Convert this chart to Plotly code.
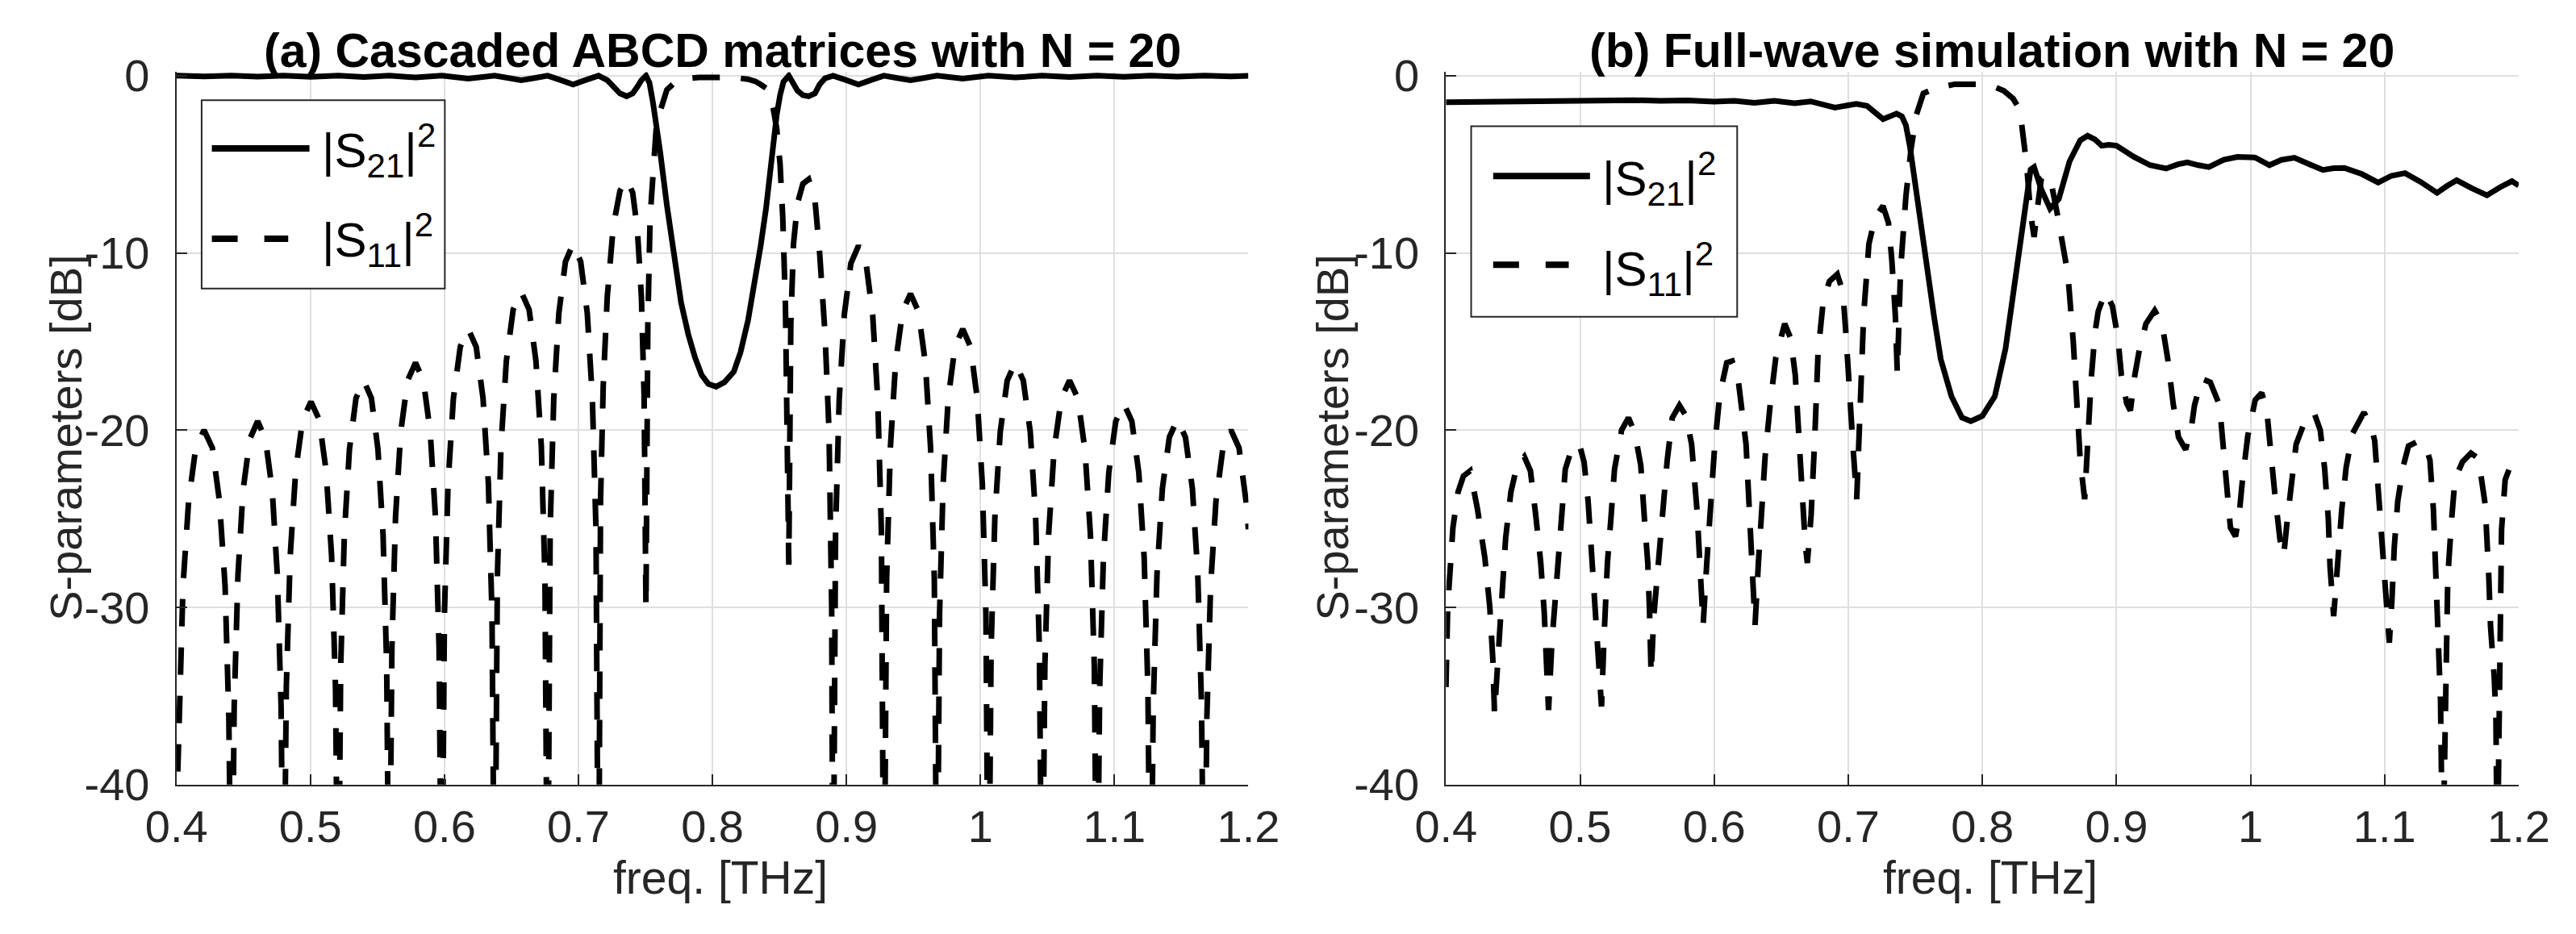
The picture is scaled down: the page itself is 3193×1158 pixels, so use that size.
import plotly.graph_objects as go
from plotly.subplots import make_subplots

# ---------------- data ----------------
x_ticks = [0.4, 0.5, 0.6, 0.7, 0.8, 0.9, 1.0, 1.1, 1.2]
x_tick_labels = ["0.4", "0.5", "0.6", "0.7", "0.8", "0.9", "1", "1.1", "1.2"]
y_ticks = [-40, -30, -20, -10, 0]
y_tick_labels = ["-40", "-30", "-20", "-10", "0"]

titles = ["(a) Cascaded ABCD matrices with N = 20",
          "(b) Full-wave simulation with N = 20"]
legend_names = ["|S<sub>21</sub>|<sup>2</sup>", "|S<sub>11</sub>|<sup>2</sup>"]

# (a) |S11|^2 [dB]
freq_a_s11 = [
    0.4000, 0.4021, 0.4049, 0.4091, 0.4144, 0.4206, 0.4268, 0.4321, 0.4363, 0.4391,
    0.4412, 0.4431, 0.4459, 0.4497, 0.4548, 0.4606, 0.4664, 0.4715, 0.4753, 0.4781,
    0.4800, 0.4820, 0.4849, 0.4890, 0.4942, 0.5004, 0.5065, 0.5117, 0.5158, 0.5187,
    0.5207, 0.5226, 0.5253, 0.5291, 0.5340, 0.5398, 0.5455, 0.5504, 0.5542, 0.5569,
    0.5588, 0.5608, 0.5635, 0.5674, 0.5725, 0.5784, 0.5843, 0.5894, 0.5933, 0.5960,
    0.5980, 0.6000, 0.6027, 0.6067, 0.6118, 0.6178, 0.6237, 0.6288, 0.6328, 0.6355,
    0.6375, 0.6395, 0.6422, 0.6462, 0.6513, 0.6573, 0.6632, 0.6683, 0.6723, 0.6750,
    0.6770, 0.6789, 0.6816, 0.6854, 0.6903, 0.6960, 0.7017, 0.7066, 0.7104, 0.7131,
    0.7150, 0.7165, 0.7185, 0.7215, 0.7260, 0.7310, 0.7360, 0.7405, 0.7440, 0.7470, 0.7490,
    0.7504, 0.7518, 0.7535, 0.7556, 0.7580, 0.7610, 0.7660, 0.7714, 0.7766, 0.7820, 0.7900,
    0.8030, 0.8160, 0.8266, 0.8320, 0.8360, 0.8400, 0.8426, 0.8455, 0.8480, 0.8505, 0.8525, 0.8545,
    0.8570, 0.8585, 0.8605, 0.8635, 0.8675, 0.8718, 0.8765, 0.8800, 0.8840, 0.8870, 0.8890,
    0.8900, 0.8919, 0.8946, 0.8984, 0.9033, 0.9090, 0.9147, 0.9196, 0.9234, 0.9261,
    0.9280, 0.9300, 0.9328, 0.9367, 0.9419, 0.9478, 0.9537, 0.9589, 0.9628, 0.9656,
    0.9676, 0.9695, 0.9722, 0.9760, 0.9810, 0.9868, 0.9926, 0.9976, 1.0014, 1.0041,
    1.0060, 1.0080, 1.0108, 1.0148, 1.0200, 1.0260, 1.0320, 1.0372, 1.0412, 1.0440,
    1.0460, 1.0481, 1.0509, 1.0550, 1.0604, 1.0665, 1.0727, 1.0780, 1.0821, 1.0850,
    1.0870, 1.0890, 1.0918, 1.0958, 1.1010, 1.1070, 1.1130, 1.1182, 1.1222, 1.1250,
    1.1270, 1.1290, 1.1318, 1.1358, 1.1410, 1.1470, 1.1530, 1.1582, 1.1622, 1.1650,
    1.1670, 1.1690, 1.1718, 1.1758, 1.1810, 1.1870, 1.1930, 1.1982, 1.2000,
]
s11_a = [
    -42.0, -36.2, -28.8, -24.0, -21.0, -20.0, -21.0, -24.0, -28.8, -36.2,
    -50.0, -35.6, -28.2, -23.4, -20.5, -19.5, -20.5, -23.4, -28.2, -35.6,
    -50.0, -34.5, -27.1, -22.3, -19.4, -18.4, -19.4, -22.3, -27.1, -34.5,
    -50.0, -33.3, -25.9, -21.1, -18.2, -17.2, -18.2, -21.1, -25.9, -33.3,
    -50.0, -32.3, -24.9, -20.1, -17.2, -16.2, -17.2, -20.1, -24.9, -32.3,
    -50.0, -30.4, -23.0, -18.2, -15.3, -14.3, -15.3, -18.2, -23.0, -30.4,
    -50.0, -28.3, -20.9, -16.1, -13.2, -12.2, -13.2, -16.1, -20.9, -28.3,
    -50.0, -25.6, -18.2, -13.4, -10.5, -9.5, -10.5, -13.4, -18.2, -25.6,
    -50.0, -24.0, -17.5, -12.5, -8.5, -6.5, -5.85, -6.6, -8.7, -12.5, -18.0,
    -30.0, -14.0, -8.0, -5.0, -3.0, -2.0, -0.8, -0.42, -0.25, -0.15, -0.1,
    -0.08, -0.1, -0.2, -0.32, -0.5, -0.7, -1.1, -1.9, -3.0, -5.0, -8.0, -13.0,
    -27.6, -14.0, -9.5, -7.2, -6.1, -5.85, -7.0, -10.0, -14.5, -20.0, -30.0,
    -50.0, -25.7, -18.3, -13.5, -10.6, -9.6, -10.6, -13.5, -18.3, -25.7,
    -50.0, -28.4, -21.0, -16.2, -13.3, -12.3, -13.3, -16.2, -21.0, -28.4,
    -50.0, -30.4, -23.0, -18.2, -15.3, -14.3, -15.3, -18.2, -23.0, -30.4,
    -50.0, -32.3, -24.9, -20.1, -17.2, -16.2, -17.2, -20.1, -24.9, -32.3,
    -50.0, -33.3, -25.9, -21.1, -18.2, -17.2, -18.2, -21.1, -25.9, -33.3,
    -50.0, -34.6, -27.2, -22.4, -19.5, -18.5, -19.5, -22.4, -27.2, -34.6,
    -50.0, -35.5, -28.1, -23.3, -20.4, -19.4, -20.4, -23.3, -28.1, -35.5,
    -50.0, -36.2, -28.8, -24.0, -21.0, -20.0, -21.0, -24.0, -25.6,
]

# (a) |S21|^2 [dB]
freq_a_s21 = [
    0.4000, 0.4206, 0.4412, 0.4606, 0.4800, 0.5004, 0.5207, 0.5398, 0.5588, 0.5784,
    0.5980, 0.6178, 0.6375, 0.6474, 0.6573, 0.6672, 0.6770, 0.6865, 0.6960, 0.7055,
    0.7150, 0.7215, 0.7260, 0.7310, 0.7360, 0.7405, 0.7440, 0.7470, 0.7504, 0.7530,
    0.7556, 0.7580, 0.7610, 0.7660, 0.7714, 0.7766, 0.7820, 0.7870, 0.7920, 0.7970,
    0.8027, 0.8090, 0.8160, 0.8210, 0.8266, 0.8310, 0.8360, 0.8400, 0.8426, 0.8455,
    0.8480, 0.8505, 0.8530, 0.8570, 0.8605, 0.8635, 0.8675, 0.8718, 0.8765, 0.8800,
    0.8840, 0.8900, 0.8995, 0.9090, 0.9185, 0.9280, 0.9379, 0.9478, 0.9577, 0.9676,
    0.9868, 1.0060, 1.0260, 1.0460, 1.0665, 1.0870, 1.1070, 1.1270, 1.1470, 1.1670,
    1.1870, 1.2000,
]
s21_a = [
    0.0, -0.04, 0.0, -0.05, 0.0, -0.06, 0.0, -0.08, 0.0, -0.10,
    0.0, -0.16, 0.0, -0.13, -0.26, -0.13, 0.0, -0.24, -0.50, -0.24,
    0.0, -0.25, -0.62, -1.0, -1.16, -1.0, -0.62, -0.25, 0.0, -0.4,
    -1.5, -2.7, -4.3, -7.3, -10.3, -12.8, -14.6, -15.9, -16.9, -17.4,
    -17.55, -17.3, -16.7, -15.6, -13.8, -12.0, -9.6, -7.5, -5.6, -3.7,
    -2.2, -1.1, -0.35, 0.0, -0.45, -0.85, -1.1, -1.16, -1.0, -0.5,
    -0.15, 0.0, -0.24, -0.50, -0.24, 0.0, -0.13, -0.26, -0.13, 0.0,
    -0.16, 0.0, -0.10, 0.0, -0.08, 0.0, -0.06, 0.0, -0.05, 0.0,
    -0.04, -0.01,
]

# (b) |S11|^2 [dB]
freq_b_s11 = [
    0.4000, 0.4013, 0.4052, 0.4090, 0.4130, 0.4180, 0.4236, 0.4290, 0.4327, 0.4350, 0.4362,
    0.4393, 0.4420, 0.4445, 0.4484, 0.4530, 0.4584, 0.4630, 0.4668, 0.4707, 0.4733, 0.4755, 0.4765,
    0.4790, 0.4810, 0.4850, 0.4890, 0.4940, 0.4995, 0.5030, 0.5060, 0.5086, 0.5113, 0.5139, 0.5160,
    0.5180, 0.5204, 0.5230, 0.5257, 0.5310, 0.5361, 0.5410, 0.5453, 0.5480, 0.5505, 0.5518, 0.5530,
    0.5550, 0.5584, 0.5610, 0.5650, 0.5688, 0.5741, 0.5790, 0.5832, 0.5872, 0.5898, 0.5918,
    0.5945, 0.5976, 0.6003, 0.6042, 0.6094, 0.6134, 0.6180, 0.6238, 0.6264, 0.6290, 0.6305,
    0.6330, 0.6356, 0.6380, 0.6420, 0.6460, 0.6526, 0.6570, 0.6605, 0.6631, 0.6657, 0.6680, 0.6695,
    0.6723, 0.6750, 0.6775, 0.6814, 0.6860, 0.6918, 0.6960, 0.6984, 0.7010, 0.7037, 0.7063,
    0.7090, 0.7115, 0.7154, 0.7200, 0.7259, 0.7300, 0.7325, 0.7351, 0.7366,
    0.7390, 0.7430, 0.7469, 0.7508, 0.7560, 0.7650, 0.7796, 0.7953, 0.8080, 0.8160, 0.8230,
    0.8280, 0.8306, 0.8330, 0.8360, 0.8386, 0.8410, 0.8440, 0.8479, 0.8520, 0.8559, 0.8600,
    0.8638, 0.8678, 0.8705, 0.8730, 0.8763,
    0.8785, 0.8811, 0.8840, 0.8864, 0.8918, 0.8970, 0.9011, 0.9037, 0.9077, 0.9104,
    0.9135, 0.9170, 0.9220, 0.9285, 0.9340, 0.9383, 0.9423, 0.9463, 0.9516,
    0.9560, 0.9582, 0.9636, 0.9700, 0.9769, 0.9795, 0.9822, 0.9850, 0.9888,
    0.9915, 0.9940, 0.9980, 1.0035, 1.0083, 1.0120, 1.0141, 1.0180, 1.0220, 1.0247,
    1.0275, 1.0300, 1.0340, 1.0400, 1.0473, 1.0520, 1.0553, 1.0580, 1.0593, 1.0620,
    1.0646, 1.0680, 1.0713, 1.0760, 1.0846, 1.0900, 1.0926, 1.0952, 1.0979, 1.1005, 1.1035,
    1.1055, 1.1072, 1.1098, 1.1140, 1.1178, 1.1258, 1.1310, 1.1338, 1.1364, 1.1390, 1.1404, 1.1417, 1.1433,
    1.1457, 1.1471, 1.1497, 1.1524, 1.1580, 1.1644, 1.1700, 1.1750, 1.1777, 1.1790, 1.1817, 1.1830, 1.1840,
    1.1859, 1.1872, 1.1899, 1.1939, 1.2000,
]
s11_b = [
    -34.5, -30.0, -25.5, -23.5, -22.6, -22.3, -24.5, -27.2, -30.0, -33.0, -36.0,
    -32.7, -28.7, -26.1, -23.5, -22.0, -21.5, -22.3, -24.7, -27.5, -30.3, -33.5, -35.8,
    -32.0, -30.0, -26.8, -22.2, -21.0, -20.8, -21.8, -24.0, -27.0, -29.8, -32.6, -35.6,
    -31.5, -27.5, -25.0, -22.2, -20.0, -19.3, -20.2, -22.0, -25.0, -27.5, -30.2, -33.8,
    -30.5, -27.5, -24.5, -21.7, -19.3, -18.6, -19.2, -20.8, -24.5, -27.5, -31.0,
    -27.5, -24.0, -21.0, -18.0, -16.2, -16.1, -17.2, -20.8, -24.8, -27.5, -31.0,
    -27.5, -24.5, -21.5, -18.4, -15.9, -14.0, -14.8, -16.9, -20.7, -24.2, -26.5, -27.5,
    -24.8, -20.5, -15.6, -12.7, -11.6, -11.2, -12.2, -14.7, -18.2, -21.1, -23.9,
    -18.0, -13.5, -9.5, -8.0, -7.35, -8.3, -10.4, -13.5, -16.8,
    -11.0, -6.8, -4.1, -2.2, -1.0, -0.7, -0.48, -0.48, -0.6, -0.85, -1.3,
    -1.93, -3.3, -5.0, -7.8, -9.1, -7.5, -5.8, -5.58, -6.3, -7.8, -9.5,
    -11.2, -15.0, -18.6, -21.7, -23.9,
    -20.3, -17.2, -14.5, -13.3, -12.2, -13.0, -14.8, -16.9, -18.5, -18.9,
    -17.0, -15.5, -14.0, -13.25, -14.0, -16.0, -18.5, -20.4, -21.1,
    -19.8, -18.6, -17.1, -17.3, -18.6, -20.8, -23.5, -25.5, -26.0,
    -24.8, -22.8, -20.3, -18.3, -17.9, -18.8, -20.7, -23.5, -26.2, -27.1,
    -25.0, -23.5, -20.8, -19.6, -19.0, -20.0, -22.2, -25.0, -27.7, -30.5,
    -27.8, -24.5, -22.1, -20.2, -19.0, -19.8, -20.6, -23.1, -26.0, -28.7, -32.0,
    -29.5, -26.6, -24.0, -22.0, -20.9, -20.6, -21.0, -21.7, -24.5, -30.0, -32.6, -35.3, -45.0,
    -31.4, -28.3, -25.3, -22.8, -21.8, -21.3, -21.6, -24.2, -28.3, -31.1, -33.9, -36.2, -45.0,
    -29.0, -25.6, -22.8, -22.0, -21.8,
]

# (b) |S21|^2 [dB]
freq_b_s21 = [
    0.400, 0.420, 0.440, 0.460, 0.480, 0.500, 0.520, 0.540, 0.560, 0.580,
    0.600, 0.615, 0.630, 0.645, 0.660, 0.672, 0.690, 0.700, 0.706, 0.714,
    0.720, 0.726, 0.731, 0.736, 0.740, 0.743, 0.746, 0.748, 0.7534, 0.7586,
    0.764, 0.769, 0.777, 0.7848, 0.7914, 0.800, 0.8093, 0.8173, 0.824, 0.8306,
    0.836, 0.8386, 0.8439, 0.8505, 0.857, 0.865, 0.873, 0.8785, 0.884, 0.889,
    0.8944, 0.900, 0.913, 0.925, 0.937, 0.946, 0.9529, 0.961, 0.9689, 0.980,
    0.9902, 1.0035, 1.0141, 1.023, 1.0327, 1.044, 1.054, 1.062, 1.070, 1.083,
    1.0952, 1.105, 1.1152, 1.127, 1.1391, 1.147, 1.1537, 1.165, 1.1763, 1.186,
    1.1949, 1.200,
]
s21_b = [
    -1.50, -1.48, -1.45, -1.45, -1.42, -1.38, -1.40, -1.38, -1.42, -1.40,
    -1.46, -1.42, -1.53, -1.42, -1.55, -1.45, -1.80, -1.70, -1.59, -1.70,
    -2.10, -2.45, -2.30, -2.14, -2.30, -2.80, -4.00, -5.10, -7.75, -10.4,
    -13.6, -16.0, -18.1, -19.3, -19.5, -19.2, -18.1, -15.4, -11.7, -7.75,
    -5.30, -5.16, -6.40, -7.50, -6.96, -4.84, -3.65, -3.39, -3.60, -3.95,
    -3.90, -3.95, -4.58, -5.05, -5.24, -5.00, -4.89, -5.05, -5.16, -4.75,
    -4.58, -4.62, -5.05, -4.75, -4.63, -5.00, -5.32, -5.22, -5.21, -5.55,
    -6.03, -5.65, -5.50, -6.00, -6.61, -6.20, -5.90, -6.35, -6.75, -6.30,
    -5.95, -6.20,
]

assert len(freq_a_s11) == len(s11_a)
assert len(freq_a_s21) == len(s21_a)
assert len(freq_b_s11) == len(s11_b)
assert len(freq_b_s21) == len(s21_b)

# ---------------- figure ----------------
W, H = 3193, 1158
FONT = "Liberation Sans, Arial, Helvetica, sans-serif"
INK = "#262626"


def px(x):
    return x / W


def py(y):
    return 1 - y / H


fig = make_subplots(rows=1, cols=2)

curves = [(freq_a_s21, s21_a, freq_a_s11, s11_a), (freq_b_s21, s21_b, freq_b_s11, s11_b)]
for i, (f21, v21, f11, v11) in enumerate(curves):
    fig.add_trace(go.Scatter(x=f21, y=v21, mode="lines", name="|S21|^2",
                             line=dict(color="black", width=7)), row=1, col=i + 1)
    fig.add_trace(go.Scatter(x=f11, y=v11, mode="lines", name="|S11|^2",
                             line=dict(color="black", width=7, dash="34px,26px")), row=1, col=i + 1)

axis_style = dict(showline=True, linecolor=INK, linewidth=2, mirror=False,
                  ticks="inside", ticklen=13, tickwidth=2, tickcolor=INK,
                  showgrid=True, gridcolor="#dfdfdf", gridwidth=2, zeroline=False,
                  tickfont=dict(family=FONT, size=56, color=INK))

x_domains = [[px(176), px(1538)], [px(1789), px(3152)]]
y_domain = [py(988), py(62 - 0.2 * 926 / 40)]

for i in range(2):
    fig.update_xaxes(axis_style, range=[0.4, 1.2], tickmode="array", tickvals=x_ticks,
                     ticktext=x_tick_labels, domain=x_domains[i], ticklabelstandoff=2,
                     row=1, col=i + 1)
    fig.update_yaxes(axis_style, range=[-40, 0.2], tickmode="array", tickvals=y_ticks,
                     ticktext=y_tick_labels, domain=y_domain, ticklabelstandoff=20,
                     row=1, col=i + 1)

annotations = []
title_x = [870, 2483]
xlabel_x = [867, 2481]
ylabel_x = [36, 1645]
for i in range(2):
    annotations.append(dict(text=titles[i], x=px(title_x[i]), y=py(30), xref="paper", yref="paper",
                            xanchor="center", yanchor="middle", showarrow=False,
                            font=dict(family=FONT, size=59, color="black", weight="bold")))
    annotations.append(dict(text="freq. [THz]", x=px(xlabel_x[i]), y=py(1110), xref="paper",
                            yref="paper", xanchor="center", yanchor="middle", showarrow=False,
                            font=dict(family=FONT, size=57, color=INK)))
    annotations.append(dict(text="S-parameters [dB]", x=px(ylabel_x[i]), y=py(535), xref="paper",
                            yref="paper", xanchor="center", yanchor="middle", showarrow=False,
                            textangle=-90, font=dict(family=FONT, size=56, color=INK)))

# hand-made legend boxes (MATLAB style, long line samples)
legend_boxes = [dict(x0=208, x1=517, y0=94, y1=340, sx0=221, sx1=345, dx1=318, tx=359,
                     ly=[157, 275], ty=[160, 277]),
                dict(x0=1821, x1=2159, y0=128, y1=377, sx0=1849, sx1=1972, dx1=1945, tx=1985,
                     ly=[193, 309], ty=[197, 315])]
shapes = []
for b in legend_boxes:
    shapes.append(dict(type="rect", xref="paper", yref="paper", x0=px(b["x0"]), x1=px(b["x1"]),
                       y0=py(b["y1"]), y1=py(b["y0"]), line=dict(color=INK, width=2),
                       fillcolor="white", layer="above"))
    shapes.append(dict(type="line", xref="paper", yref="paper", x0=px(b["sx0"]), x1=px(b["sx1"]),
                       y0=py(b["ly"][0]), y1=py(b["ly"][0]), line=dict(color="black", width=8),
                       layer="above"))
    shapes.append(dict(type="line", xref="paper", yref="paper", x0=px(b["sx0"]), x1=px(b["dx1"]),
                       y0=py(b["ly"][1]), y1=py(b["ly"][1]),
                       line=dict(color="black", width=8, dash="32px,33px"), layer="above"))
    for k in range(2):
        annotations.append(dict(text=legend_names[k], x=px(b["tx"]), y=py(b["ty"][k]), xref="paper",
                                yref="paper", xanchor="left", yanchor="middle", showarrow=False,
                                font=dict(family=FONT, size=60, color="black")))

fig.update_layout(width=W, height=H, margin=dict(l=0, r=0, t=0, b=0, pad=0),
                  paper_bgcolor="white", plot_bgcolor="white", showlegend=False,
                  annotations=annotations, shapes=shapes,
                  font=dict(family=FONT, color=INK))

fig.write_html("out.html")
